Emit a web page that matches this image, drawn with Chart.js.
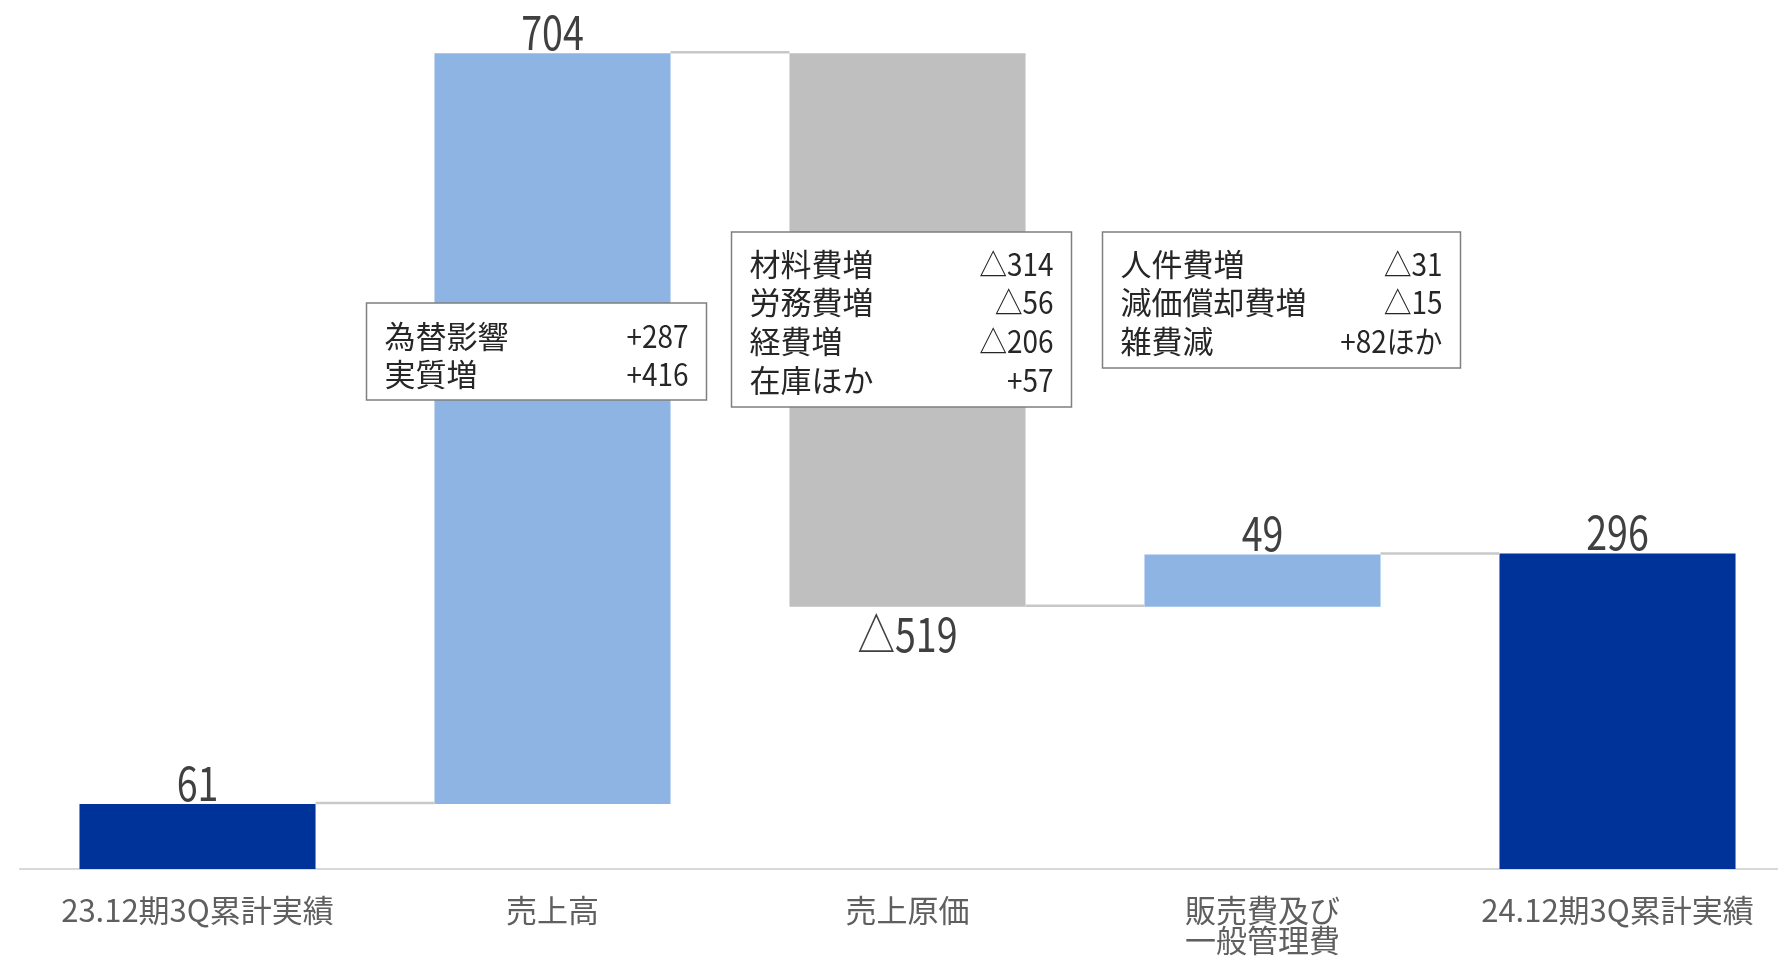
<!DOCTYPE html>
<html lang="ja">
<head>
<meta charset="utf-8">
<script src="https://cdn.jsdelivr.net/npm/chart.js@4.4.1/dist/chart.umd.min.js"></script>
<style>
  html, body { margin: 0; padding: 0; background: #fff; overflow: hidden; }
  canvas { display: block; }
</style>
</head>
<body>
<canvas id="bridge" width="1800" height="956"></canvas>
<script>
// 営業利益の増減要因（23.12期3Q → 24.12期3Q）

const categories = [["23.12期3Q累計実績"], ["売上高"], ["売上原価"], ["販売費及び", "一般管理費"], ["24.12期3Q累計実績"]];
const amounts = [61, 704, -519, 49, 296];
const isTotal = [true, false, false, false, true];

const salesItems = ["為替影響", "実質増"];
const salesValues = ["+287", "+416"];
const cogsItems = ["材料費増", "労務費増", "経費増", "在庫ほか"];
const cogsValues = ["△314", "△56", "△206", "+57"];
const sgaItems = ["人件費増", "減価償却費増", "雑費減"];
const sgaValues = ["△31", "△15", "+82ほか"];

const FONT = '"Noto Sans CJK JP", "Noto Sans", sans-serif';
const NAVY = "#003399";
const UP = "#8EB4E3";
const DOWN = "#BFBFBF";

// floating bars: totals start at zero, changes start at the running level
const levels = [];
let running = 0;
const floating = amounts.map((v, i) => {
  if (isTotal[i]) {
    running = v;
    levels.push(running);
    return [0, v];
  }
  const from = running;
  running += v;
  levels.push(running);
  return [Math.min(from, running), Math.max(from, running)];
});
const barColors = amounts.map((v, i) => isTotal[i] ? NAVY : (v < 0 ? DOWN : UP));
const valueText = amounts.map(v => v < 0 ? "△" + Math.abs(v) : String(v));

// note boxes hung next to the change bars
const notes = [
  { bar: 1, dx: -186, top: 303, width: 340, height: 97, first: 33, step: 38, items: salesItems, values: salesValues },
  { bar: 2, dx: -176, top: 232, width: 340, height: 175, first: 32, step: 38.7, items: cogsItems, values: cogsValues },
  { bar: 3, dx: -160, top: 232, width: 358, height: 136, first: 32, step: 38.7, items: sgaItems, values: sgaValues },
];

function narrowText(ctx, text, x, y, sx) {
  ctx.save();
  ctx.translate(x, y);
  ctx.scale(sx, 1);
  ctx.fillText(text, 0, 0);
  ctx.restore();
}

const bridgeDecor = {
  id: "bridgeDecor",
  afterDatasetsDraw(chart) {
    const ctx = chart.ctx;
    const yScale = chart.scales.y;
    const bars = chart.getDatasetMeta(0).data;

    // connector lines between neighbouring bars
    ctx.save();
    ctx.strokeStyle = "#c8c8c8";
    ctx.lineWidth = 2.5;
    for (let i = 0; i < bars.length - 1; i++) {
      const yy = yScale.getPixelForValue(levels[i]) - 1;
      ctx.beginPath();
      ctx.moveTo(bars[i].x + bars[i].width / 2, yy);
      ctx.lineTo(bars[i + 1].x - bars[i + 1].width / 2, yy);
      ctx.stroke();
    }
    ctx.restore();

    // value labels
    ctx.save();
    ctx.fillStyle = "#404040";
    ctx.font = "47px " + FONT;
    ctx.textAlign = "center";
    ctx.textBaseline = "alphabetic";
    bars.forEach((bar, i) => {
      const top = yScale.getPixelForValue(floating[i][1]);
      const bottom = yScale.getPixelForValue(floating[i][0]);
      if (amounts[i] < 0) {
        narrowText(ctx, valueText[i], bar.x, bottom + 45, 0.8);
      } else {
        narrowText(ctx, valueText[i], bar.x, top - 3, 0.8);
      }
    });
    ctx.restore();

    // breakdown boxes
    ctx.save();
    notes.forEach(n => {
      const left = bars[n.bar].x + n.dx;
      ctx.fillStyle = "#fff";
      ctx.fillRect(left, n.top, n.width, n.height);
      ctx.strokeStyle = "#7f7f7f";
      ctx.lineWidth = 1.5;
      ctx.strokeRect(left, n.top, n.width, n.height);
      ctx.fillStyle = "#262626";
      ctx.font = "31px " + FONT;
      ctx.textBaseline = "middle";
      n.items.forEach((label, k) => {
        const ly = n.top + n.first + k * n.step;
        ctx.textAlign = "left";
        ctx.fillText(label, left + 18, ly);
        ctx.textAlign = "right";
        narrowText(ctx, n.values[k], left + n.width - 18, ly, 0.9);
      });
    });
    ctx.restore();
  }
};

new Chart(document.getElementById("bridge").getContext("2d"), {
  type: "bar",
  data: {
    labels: categories,
    datasets: [{
      data: floating,
      backgroundColor: barColors,
      borderWidth: 0,
      barPercentage: 0.665,
      categoryPercentage: 1,
    }],
  },
  options: {
    responsive: false,
    animation: false,
    devicePixelRatio: 1,
    layout: { padding: { left: 20, right: 5, top: 0, bottom: 0 } },
    plugins: { legend: { display: false }, tooltip: { enabled: false } },
    scales: {
      x: {
        grid: { display: false, drawTicks: false, tickLength: 0 },
        border: { display: true, color: "#d9d9d9", width: 2 },
        ticks: {
          color: "#5f5f5f",
          font: { family: FONT, size: 31, lineHeight: 0.98 },
          padding: 26,
          maxRotation: 0,
          autoSkip: false,
        },
        afterFit(scale) { scale.height = 87; },
      },
      y: {
        display: false,
        min: 0,
        max: 815,
      },
    },
  },
  plugins: [bridgeDecor],
});
</script>
</body>
</html>
